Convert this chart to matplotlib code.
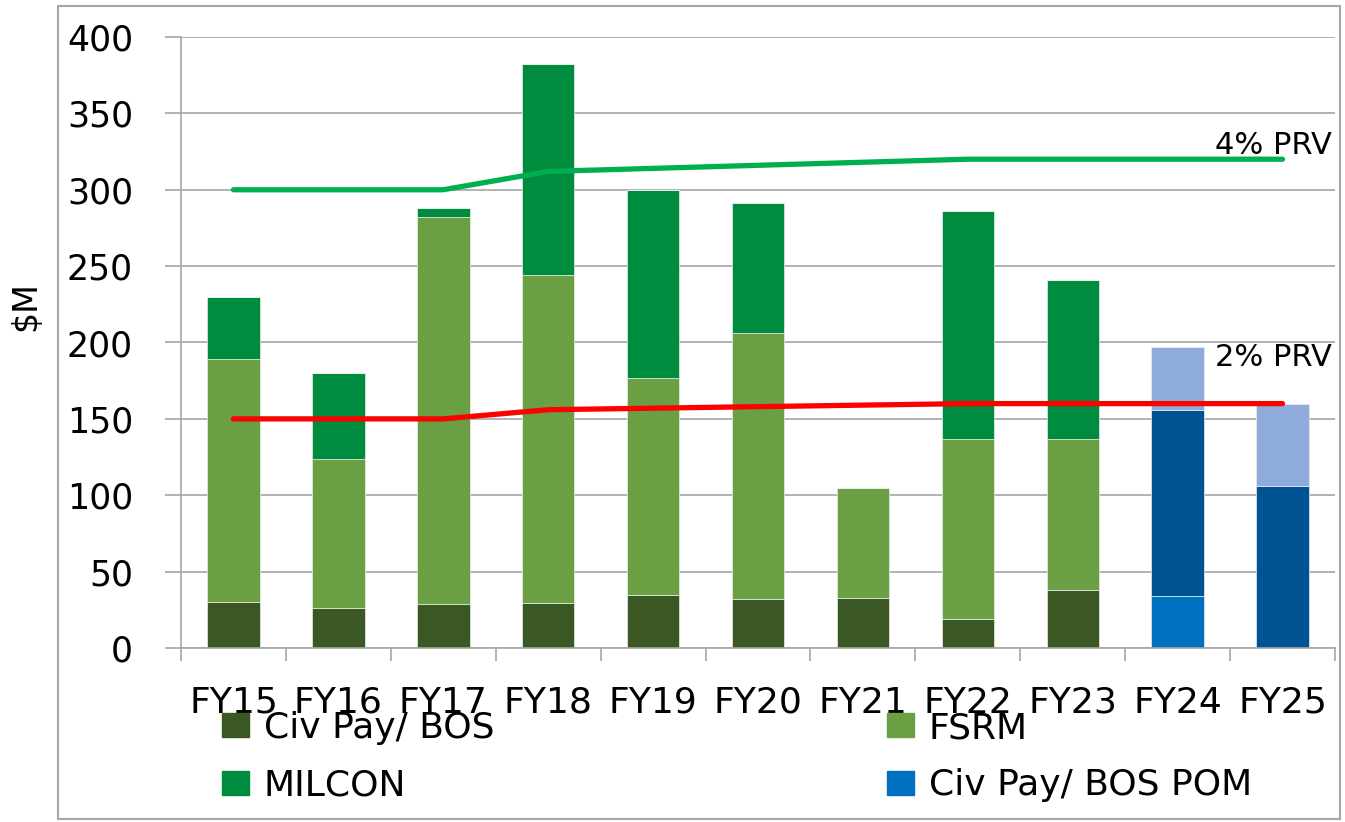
import numpy as np
import matplotlib.pyplot as plt
from matplotlib.patches import Patch, Rectangle
from matplotlib.ticker import FixedLocator

years = ['FY15', 'FY16', 'FY17', 'FY18', 'FY19', 'FY20', 'FY21', 'FY22', 'FY23', 'FY24', 'FY25']
civ_pay = [30, 26, 29, 29.5, 35, 32, 33, 19, 38, 0, 0]
fsrm = [159, 98, 253, 214.5, 142, 174, 72, 118, 99, 0, 0]
milcon = [41, 56, 6, 138, 123, 85, 0, 149, 104, 0, 0]
civ_pay_pom = [0, 0, 0, 0, 0, 0, 0, 0, 0, 34, 0]
fsrm_pom = [0, 0, 0, 0, 0, 0, 0, 0, 0, 122, 106]
milcon_pom = [0, 0, 0, 0, 0, 0, 0, 0, 0, 41, 54]
prv4 = [300, 300, 300, 312, 314, 316, 318, 320, 320, 320, 320]
prv2 = [150, 150, 150, 156, 157, 158, 159, 160, 160, 160, 160]

c_civ = '#3A5724'
c_fsrm = '#6AA043'
c_milcon = '#008C3F'
c_pom = '#0070C0'
c_fpom = '#005493'
c_mpom = '#8FABDC'
grid_c = '#A6A6A6'

fig = plt.figure(figsize=(13.45, 8.22), dpi=100)
ax = fig.add_axes([181 / 1345, 1 - 648 / 822, 1154 / 1345, 611 / 822])

x = np.arange(len(years))
w = 0.5
bottom = np.zeros(len(years))
for vals, col in [(civ_pay, c_civ), (fsrm, c_fsrm), (milcon, c_milcon),
                  (civ_pay_pom, c_pom), (fsrm_pom, c_fpom), (milcon_pom, c_mpom)]:
    v = np.array(vals, dtype=float)
    ax.bar(x, v, w, bottom=bottom, color=col, edgecolor='#E8F0E8', linewidth=0.5, zorder=2)
    bottom += v

ax.plot(x, prv4, color='#00B050', lw=3.8, solid_capstyle='round', zorder=3)
ax.plot(x, prv2, color='#FF0000', lw=3.8, solid_capstyle='round', zorder=3)
ax.annotate('4% PRV', (x[-1], prv4[-1]), xytext=(-6.5, 10), textcoords='offset points',
            ha='center', va='center', fontsize=22)
ax.annotate('2% PRV', (x[-1], prv2[-1]), xytext=(-6.5, 33), textcoords='offset points',
            ha='center', va='center', fontsize=22)

ax.set_xlim(-0.5, len(years) - 0.5)
ax.set_ylim(0, 400)
ax.set_yticks(range(0, 401, 50))
ax.yaxis.grid(True, color=grid_c, lw=1.2, zorder=0)
ax.set_axisbelow(True)
ax.tick_params(axis='y', direction='out', length=11.5, width=1.2, color=grid_c,
               labelsize=25, pad=23)
ax.set_xticks(x)
ax.set_xticklabels(years)
ax.tick_params(axis='x', which='major', length=0, labelsize=26, pad=27)
ax.xaxis.set_minor_locator(FixedLocator(np.arange(-0.5, len(years), 1)))
ax.tick_params(axis='x', which='minor', direction='out', length=9, width=1.2, color=grid_c)
for s in ['top', 'right']:
    ax.spines[s].set_visible(False)
for s in ['left', 'bottom']:
    ax.spines[s].set_color(grid_c)
    ax.spines[s].set_linewidth(1.2)
ax.set_ylabel('$M', fontsize=24)
ax.yaxis.set_label_coords(-0.12, 0.56)

handles = [Patch(color=c_civ, label='Civ Pay/ BOS'), Patch(color=c_fsrm, label='FSRM'),
           Patch(color=c_milcon, label='MILCON'), Patch(color=c_pom, label='Civ Pay/ BOS POM')]
order = [handles[0], handles[2], handles[1], handles[3]]
fig.legend(handles=order, loc='upper left', ncol=2, mode='expand', frameon=False,
           bbox_to_anchor=(222 / 1345, 1 - 711 / 822, 1030 / 1345, 0),
           fontsize=26, handlelength=0.75, handleheight=0.65, handletextpad=0.4,
           labelspacing=0.65, borderpad=0, borderaxespad=0)

fig.patches.append(Rectangle((58 / 1345, 3 / 822), 1282 / 1345, 813 / 822,
                             transform=fig.transFigure, fill=False, edgecolor=grid_c, lw=1.5))

fig.savefig('out.png', dpi=100)
